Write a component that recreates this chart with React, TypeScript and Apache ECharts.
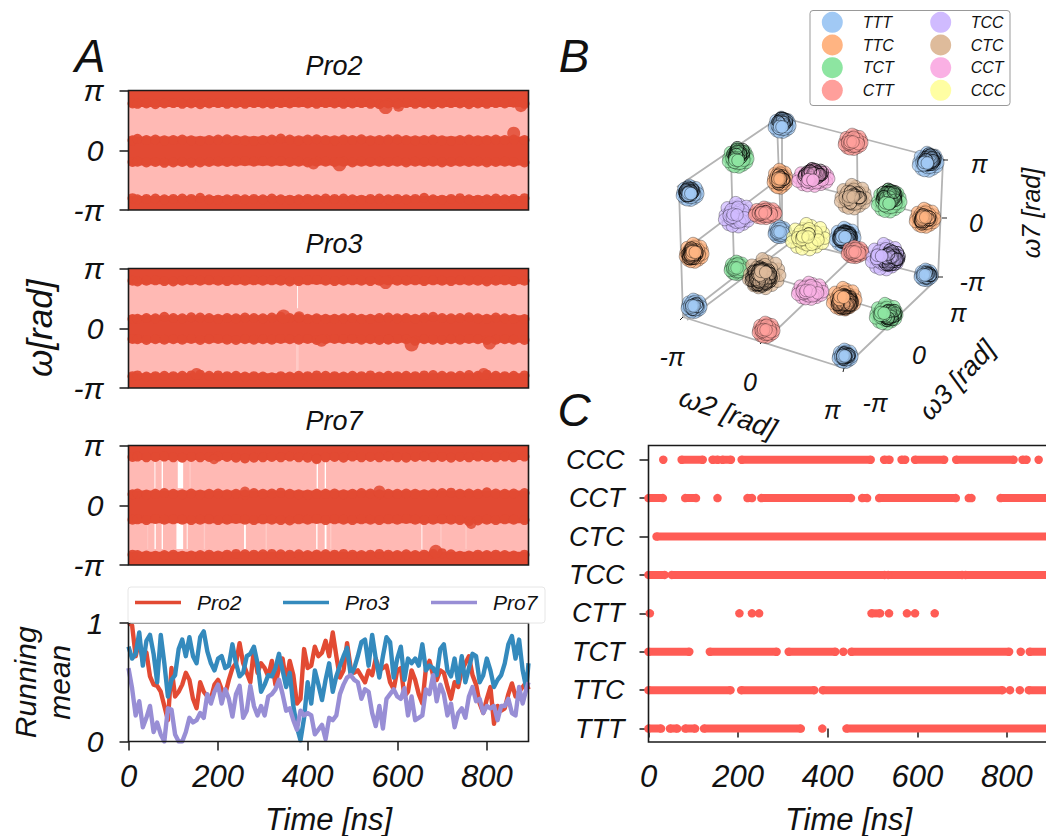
import React, { useEffect, useRef } from "react";
import * as echarts from "echarts";

const FONT = "Liberation Sans";

// ---------- Panel A: band samples (rad) ----------
const bandTimes = [9,20,40,60,80,100,120,140,160,180,200,220,240,260,280,300,320,340,360,380,400,420,440,460,480,500,520,540,560,580,600,620,640,660,680,700,720,740,760,780,800,820,840,860,884];
const pro2Top = [2.46,2.44,2.46,2.42,2.46,2.48,2.44,2.46,2.42,2.46,2.48,2.44,2.46,2.44,2.48,2.46,2.44,2.48,2.46,2.50,2.46,2.44,2.48,2.46,2.44,2.46,2.48,2.44,2.42,2.46,2.44,2.48,2.44,2.46,2.42,2.46,2.48,2.46,2.42,2.46,2.44,2.48,2.46,2.50,2.44];
const pro2MidUp = [0.52,0.60,0.54,0.56,0.52,0.54,0.56,0.52,0.50,0.54,0.56,0.58,0.54,0.52,0.50,0.54,0.56,0.62,0.56,0.52,0.56,0.58,0.54,0.52,0.56,0.54,0.58,0.52,0.54,0.56,0.58,0.54,0.52,0.54,0.56,0.52,0.50,0.54,0.56,0.52,0.54,0.56,0.54,0.56,0.54];
const pro2MidLow = [-0.62,-0.60,-0.64,-0.62,-0.66,-0.64,-0.62,-0.66,-0.64,-0.62,-0.60,-0.62,-0.60,-0.58,-0.60,-0.58,-0.60,-0.58,-0.62,-0.60,-0.64,-0.60,-0.60,-0.62,-0.60,-0.64,-0.60,-0.62,-0.60,-0.62,-0.60,-0.64,-0.60,-0.62,-0.60,-0.64,-0.62,-0.60,-0.62,-0.60,-0.64,-0.62,-0.60,-0.62,-0.64];
const pro2Bot = [-2.52,-2.58,-2.56,-2.54,-2.58,-2.56,-2.54,-2.56,-2.50,-2.58,-2.60,-2.58,-2.56,-2.58,-2.56,-2.58,-2.54,-2.58,-2.60,-2.58,-2.56,-2.58,-2.54,-2.56,-2.54,-2.58,-2.60,-2.56,-2.54,-2.58,-2.56,-2.58,-2.56,-2.50,-2.58,-2.60,-2.56,-2.52,-2.58,-2.60,-2.58,-2.54,-2.58,-2.56,-2.52];
const pro3Top = [2.50,2.46,2.50,2.52,2.48,2.46,2.50,2.52,2.50,2.52,2.50,2.48,2.52,2.50,2.52,2.50,2.52,2.50,2.46,2.48,2.52,2.54,2.50,2.48,2.50,2.52,2.50,2.48,2.50,2.52,2.50,2.50,2.52,2.48,2.52,2.50,2.48,2.52,2.50,2.50,2.46,2.50,2.52,2.48,2.50];
const pro3MidUp = [0.48,0.50,0.54,0.52,0.60,0.54,0.52,0.58,0.56,0.54,0.50,0.54,0.52,0.56,0.54,0.52,0.56,0.60,0.54,0.56,0.50,0.52,0.50,0.50,0.52,0.54,0.50,0.50,0.54,0.56,0.52,0.54,0.50,0.56,0.60,0.54,0.52,0.54,0.58,0.52,0.50,0.56,0.52,0.50,0.48];
const pro3MidLow = [-0.56,-0.58,-0.62,-0.58,-0.60,-0.58,-0.60,-0.56,-0.62,-0.58,-0.56,-0.60,-0.62,-0.58,-0.60,-0.58,-0.60,-0.56,-0.58,-0.60,-0.56,-0.62,-0.58,-0.56,-0.58,-0.56,-0.60,-0.58,-0.62,-0.58,-0.56,-0.58,-0.66,-0.58,-0.60,-0.62,-0.58,-0.60,-0.56,-0.58,-0.62,-0.60,-0.58,-0.60,-0.62];
const pro3Bot = [-2.52,-2.48,-2.54,-2.52,-2.50,-2.52,-2.50,-2.48,-2.44,-2.50,-2.48,-2.52,-2.50,-2.54,-2.52,-2.54,-2.58,-2.52,-2.54,-2.50,-2.52,-2.48,-2.50,-2.52,-2.54,-2.50,-2.52,-2.48,-2.54,-2.50,-2.52,-2.50,-2.52,-2.48,-2.46,-2.50,-2.52,-2.50,-2.46,-2.50,-2.44,-2.50,-2.52,-2.50,-2.48];
const pro7Top = [2.54,2.56,2.52,2.54,2.56,2.52,2.50,2.54,2.52,2.54,2.56,2.54,2.50,2.46,2.50,2.52,2.54,2.52,2.56,2.52,2.50,2.46,2.52,2.54,2.50,2.56,2.52,2.54,2.52,2.56,2.52,2.50,2.54,2.56,2.52,2.54,2.50,2.54,2.52,2.56,2.54,2.52,2.56,2.52,2.56];
const pro7MidUp = [0.58,0.62,0.56,0.60,0.64,0.60,0.58,0.62,0.56,0.60,0.62,0.58,0.60,0.56,0.64,0.60,0.62,0.66,0.60,0.58,0.56,0.60,0.60,0.62,0.58,0.60,0.64,0.62,0.58,0.60,0.60,0.62,0.60,0.58,0.62,0.64,0.66,0.60,0.62,0.60,0.68,0.62,0.60,0.62,0.64];
const pro7MidLow = [-0.76,-0.74,-0.78,-0.72,-0.76,-0.74,-0.76,-0.78,-0.76,-0.74,-0.78,-0.76,-0.72,-0.76,-0.78,-0.74,-0.76,-0.78,-0.80,-0.74,-0.76,-0.72,-0.78,-0.74,-0.76,-0.78,-0.74,-0.76,-0.78,-0.74,-0.76,-0.72,-0.76,-0.78,-0.76,-0.74,-0.76,-0.78,-0.84,-0.80,-0.76,-0.78,-0.74,-0.76,-0.78];
const pro7Bot = [-2.60,-2.62,-2.64,-2.66,-2.62,-2.60,-2.66,-2.64,-2.62,-2.60,-2.64,-2.60,-2.56,-2.58,-2.60,-2.58,-2.56,-2.58,-2.60,-2.58,-2.62,-2.60,-2.58,-2.60,-2.56,-2.60,-2.62,-2.60,-2.56,-2.60,-2.62,-2.58,-2.62,-2.60,-2.56,-2.52,-2.58,-2.66,-2.64,-2.60,-2.62,-2.60,-2.62,-2.64,-2.60];
const pro2Outliers = [[574,2.27,14],[603,2.32,11],[876,2.32,12],[860,0.90,13],[471,-0.74,14],[413,-0.72,11]];
const pro3Outliers = [[574,2.40,13],[346,0.62,14],[381,0.60,11],[431,-0.66,12],[632,-0.85,14],[806,-0.78,13],[152,-2.40,12],[793,-2.40,12],[580,-0.60,10]];
const pro7Outliers = [[191,2.42,10],[420,2.42,10],[560,0.72,12],[686,-2.42,13],[260,0.72,10],[765,-0.98,10]];
const pro2FillEdges = [2.28, 0.72, -0.80, -2.40];
const pro3FillEdges = [2.32, 0.69, -0.76, -2.36];
const pro7FillEdges = [2.38, 0.77, -0.94, -2.45];
// gaps in the pink transition region: [start, end, low, high]
const pro3Gaps = [[376.5,378.5,1.05,2.3]];
const pro3Faint = [[374,380,-2.3,-0.8]];
const pro7Gaps = [[58,60,0.9,2.3],[74,77,0.9,2.3],[110,122,0.9,2.3],[420,423,0.9,2.3],[438,441,0.9,2.3],[58,61,-2.3,-0.9],[74,77,-2.3,-0.9],[107,122,-2.3,-0.9],[130,132,-2.3,-0.9],[258,262,-2.3,-0.9],[419,422,-2.3,-0.9],[438,442,-2.3,-0.9],[654,656,-2.3,-0.9]];
const pro7Faint = [[136,139,0.9,2.3],[42,44,-2.3,-0.9],[168,171,-2.3,-0.9],[306,309,-2.3,-0.9],[450,453,-2.3,-0.9],[696,699,-2.3,-0.9],[752,755,-2.3,-0.9]];

// ---------- Panel A: running mean ----------
const runTimes = [0,8,16,24,32,40,48,56,64,72,80,88,96,104,112,120,128,136,144,152,160,168,176,184,192,200,208,216,224,232,240,248,256,264,272,280,288,296,304,312,320,328,336,344,352,360,368,376,384,392,400,408,416,424,432,440,448,456,464,472,480,488,496,504,512,520,528,536,544,552,560,568,576,584,592,600,608,616,624,632,640,648,656,664,672,680,688,696,704,712,720,728,736,744,752,760,768,776,784,792,800,808,816,824,832,840,848,856,864,872,880,888,893];
const runPro2 = [1.0,0.98,0.72,0.85,0.68,0.75,0.55,0.48,0.47,0.42,0.30,0.18,0.62,0.38,0.42,0.48,0.58,0.52,0.36,0.28,0.50,0.42,0.38,0.36,0.48,0.52,0.44,0.40,0.52,0.62,0.66,0.83,0.66,0.58,0.50,0.78,0.58,0.66,0.62,0.55,0.68,0.48,0.62,0.70,0.50,0.68,0.56,0.32,0.36,0.78,0.62,0.64,0.80,0.72,0.75,0.85,0.72,0.92,0.72,0.54,0.60,0.83,0.62,0.58,0.60,0.55,0.50,0.60,0.56,0.70,0.60,0.62,0.64,0.50,0.44,0.60,0.62,0.38,0.42,0.60,0.52,0.40,0.32,0.62,0.68,0.56,0.52,0.60,0.58,0.46,0.36,0.50,0.46,0.60,0.66,0.72,0.56,0.48,0.32,0.24,0.36,0.46,0.15,0.30,0.26,0.28,0.40,0.49,0.38,0.42,0.46,0.50,0.44];
const runPro3 = [0.80,0.70,0.74,0.92,0.64,0.85,0.90,0.74,0.50,0.90,0.66,0.38,0.52,0.56,0.78,0.86,0.72,0.88,0.72,0.66,0.88,0.93,0.76,0.66,0.60,0.70,0.72,0.62,0.64,0.82,0.66,0.55,0.58,0.72,0.74,0.80,0.66,0.42,0.48,0.56,0.55,0.62,0.74,0.60,0.46,0.58,0.30,0.12,0.01,0.20,0.50,0.32,0.60,0.48,0.35,0.52,0.66,0.42,0.55,0.64,0.72,0.79,0.56,0.62,0.72,0.84,0.86,0.64,0.90,0.70,0.54,0.72,0.88,0.84,0.54,0.70,0.80,0.52,0.70,0.66,0.70,0.64,0.82,0.60,0.64,0.62,0.56,0.78,0.82,0.60,0.55,0.70,0.50,0.72,0.50,0.62,0.74,0.72,0.50,0.56,0.70,0.60,0.46,0.52,0.56,0.66,0.82,0.89,0.70,0.86,0.60,0.45,0.66];
const runPro7 = [0.62,0.45,0.22,0.34,0.12,0.20,0.30,0.08,0.16,0.06,0.00,0.28,0.27,0.06,0.00,0.00,0.08,0.20,0.16,0.18,0.24,0.20,0.40,0.32,0.42,0.48,0.32,0.44,0.36,0.21,0.40,0.47,0.20,0.26,0.47,0.30,0.22,0.30,0.22,0.38,0.40,0.44,0.52,0.40,0.26,0.28,0.18,0.10,0.26,0.22,0.24,0.22,0.06,0.10,0.14,0.02,0.20,0.18,0.22,0.40,0.48,0.54,0.56,0.52,0.50,0.36,0.44,0.42,0.24,0.13,0.30,0.11,0.36,0.40,0.44,0.38,0.36,0.45,0.22,0.38,0.18,0.20,0.22,0.44,0.40,0.56,0.34,0.48,0.40,0.22,0.32,0.12,0.24,0.28,0.20,0.38,0.46,0.34,0.36,0.24,0.30,0.28,0.30,0.18,0.30,0.30,0.36,0.24,0.22,0.46,0.32,0.44,0.50];

// ---------- Panel C: occupancy ----------
const stateRows = ["TTT","TTC","TCT","CTT","TCC","CTC","CCT","CCC"];
const stateRowValues = [0,1,2,3,4,5,6,7];
const endTime = 893;
const rowRanges = [
  [[0,28],[48,64],[82,104],[124,340],[388,388],[442,endTime]],
  [[0,183],[207,370],[389,790],[807,807],[829,829],[849,endTime]],
  [[0,91],[137,286],[313,417],[435,435],[453,805],[831,831],[851,endTime]],
  [[3,3],[203,203],[231,231],[247,247],[498,517],[537,537],[577,577],[595,595],[639,639]],
  [[0,36],[52,527],[535,700],[708,endTime]],
  [[18,endTime]],
  [[0,32],[82,106],[154,154],[221,231],[252,452],[477,488],[515,686],[715,721],[786,endTime]],
  [[33,33],[74,121],[143,155],[165,184],[208,496],[526,538],[565,573],[595,660],[687,815],[835,844],[871,871]],
];

// ---------- Panel B: projected view plane ----------
const clusterState = ["TTT","CTT","TTT","TCT","TTT","TTC","CCT","CTC","TCT","TTC","TCC","CTT","TTT","CCC","TTT","CTT","TCC","TTC","TCT","CTC","CCT","TTC","TCT","TTT","CTT","TTT","TTT"];
const clusterX = [782,853,928,738,690,780,813,853,889,925,737,765,780,808,845,855,885,694,737,764,810,844,886,694,766,845,926];
const clusterY = [125,142,162,158,193,179,178,197,201,218,215,213,232,237,237,252,257,253,268,274,291,299,314,306,330,356,275];
const clusterSpreadX = [8,9,10,10,8,7,16,13,12,10,13,11,6,17,10,8,14,9,7,16,13,12,11,7,8,7,6];
const clusterSpreadY = [8,8,10,10,8,10,9,13,12,10,13,6,6,14,10,6,14,10,7,16,9,12,11,7,8,7,6];
const clusterDark = [24,0,50,36,40,12,54,10,70,16,0,2,0,2,110,0,54,36,0,130,0,110,26,6,0,18,10];
const clusterDarkDx = [0,0,0.2,0,-0.3,0,0,0,0,-0.2,0,0,0,0,0,0,0.7,-0.4,0,-0.3,0,0.1,0.5,0,0,0,0.4];
const clusterDarkDy = [-0.7,0,-0.3,-0.7,-0.2,0,-0.7,0,-0.6,0.2,0,0,0,0,0,0,0.2,0.2,0,0.3,0,0.4,0.2,0,0,0,0];
const dotPattern = [[0,0],[0.7,0.1],[-0.6,0.3],[0.2,-0.8],[-0.3,-0.6],[0.5,0.7],[-0.5,-0.1],[0.9,-0.3],[-0.9,0],[0.1,0.9],[-0.2,0.5],[0.4,-0.4],[-0.75,-0.55],[0.72,-0.66],[-0.65,0.72],[0.85,0.45],[0.05,-0.3],[0.38,0.3],[-0.35,0.85],[-0.1,-0.95],[-0.95,0.35],[0.98,0.08]];
const stateColor = {TTT:"#a1c9f4",TTC:"#ffb482",TCT:"#8de5a1",CTT:"#ff9f9b",TCC:"#d0bbff",CTC:"#debb9b",CCT:"#fab0e4",CCC:"#fffea3"};
const stateDarkFill = {TTT:"rgba(161,201,244,0.25)",TTC:"rgba(255,180,130,0.25)",TCT:"rgba(141,229,161,0.25)",CTT:"rgba(255,159,155,0.25)",TCC:"rgba(208,187,255,0.25)",CTC:"rgba(222,187,155,0.25)",CCT:"rgba(250,176,228,0.25)",CCC:"rgba(255,254,163,0.25)"};
const legendLeft = ["TTT","TTC","TCT","CTT"];
const legendRight = ["TCC","CTC","CCT","CCC"];
const legendRowsY = [22.3,45,67.7,90.3];
const frameLines = [
  [780,117,945,160],[780,117,677,187],[679,190,683,317],[683,317,844,368],[844,368,938,278],[938,278,943,160],
  [777,122,781,232],[782,120,782,232],[857,140,858,255],[731,158,734,265],
  [683,317,782,240],[687,320,790,243],[782,238,938,278],[731,265,900,316],[766,340,858,252],[780,178,940,218],[780,178,681,253],
];
const frameTicks = [[683,317,680,320],[763,341,760,344],[844,368,843,372],[897,322,894,325],[938,277,943,277],[942,218,947,218],[943,160,948,160]];

const timeTicks = [0,200,400,600,800];
const piTicks = [-Math.PI,0,Math.PI];
const meanTicks = [0,1];

function rangeGap(list, c) {
  return list.map((g) => [{ xAxis: g[0], yAxis: g[2], itemStyle: { color: c } }, { xAxis: g[1], yAxis: g[3] }]);
}

function buildBand(i, edges, rows, outliers, gaps, faint) {
  const base = { type: "scatter", xAxisIndex: i, yAxisIndex: i, silent: true };
  const res = [];
  res.push({
    ...base, data: [], z: 1,
    markArea: { silent: true, z: 1, animation: false, itemStyle: { color: "#ffb9b4", opacity: 1 }, data: [[{ xAxis: 0, yAxis: -Math.PI }, { xAxis: 893, yAxis: Math.PI }]] },
  });
  if (gaps.length + faint.length) {
    res.push({
      ...base, data: [], z: 2,
      markArea: { silent: true, z: 2, animation: false, itemStyle: { color: "#ffffff", opacity: 1 }, data: rangeGap(gaps, "#ffffff").concat(rangeGap(faint, "#ffcac6")) },
    });
  }
  res.push({
    ...base, data: [], z: 3,
    markArea: {
      silent: true, z: 3, animation: false, itemStyle: { color: "#e24a33", opacity: 1 },
      data: [
        [{ xAxis: 0, yAxis: edges[0] }, { xAxis: 893, yAxis: Math.PI }],
        [{ xAxis: 0, yAxis: edges[2] }, { xAxis: 893, yAxis: edges[1] }],
        [{ xAxis: 0, yAxis: -Math.PI }, { xAxis: 893, yAxis: edges[3] }],
      ],
    },
  });
  rows.forEach((r) => {
    res.push({
      ...base, z: 4, symbolSize: 10, clip: true,
      itemStyle: { color: "#e24a33", opacity: 0.95 },
      data: r.map((v, k) => [bandTimes[k], v]),
    });
  });
  res.push({
    ...base, z: 4, clip: true,
    symbolSize: (d) => d[2],
    itemStyle: { color: "#e24a33", opacity: 0.85 },
    data: outliers,
  });
  return res;
}

function clusterSeries() {
  return clusterState.map((s, c) => {
    const sx = clusterSpreadX[c], sy = clusterSpreadY[c];
    const pts: any[] = [];
    dotPattern.forEach((p) => pts.push([clusterX[c] + p[0] * sx, clusterY[c] + p[1] * sy]));
    dotPattern.forEach((p) => pts.push([clusterX[c] - p[0] * sx * 0.62, clusterY[c] + p[1] * sy * 0.62]));
    for (let i = 0; i < clusterDark[c]; i++) {
      const p = dotPattern[(i * 5 + 3) % dotPattern.length];
      const k = 0.28 + 0.09 * (i % 5);
      pts.push({
        value: [clusterX[c] + (clusterDarkDx[c] * 0.6 + p[0] * k) * sx, clusterY[c] + (clusterDarkDy[c] * 0.6 + p[1] * k) * sy],
        itemStyle: { color: stateDarkFill[s], borderColor: "#000", borderWidth: 0.7, opacity: 1 },
      });
    }
    [2, 6, 0].forEach((j) => {
      const p = dotPattern[j];
      pts.push({
        value: [clusterX[c] + (p[0] * 0.6 - clusterDarkDx[c] * 0.35) * sx, clusterY[c] + (p[1] * 0.6 - clusterDarkDy[c] * 0.35) * sy],
        itemStyle: { opacity: clusterDark[c] > 20 ? 0.95 : 0.75 },
      });
    });
    return {
      type: "scatter", xAxisIndex: 5, yAxisIndex: 5, silent: true, z: 3,
      symbolSize: 12.5,
      itemStyle: { color: stateColor[s], borderColor: "rgba(0,0,0,0.7)", borderWidth: 0.6, opacity: 0.75 },
      data: pts,
    };
  });
}

function withBreaks(lines) {
  const out = [];
  lines.forEach((l) => { out.push([l[0], l[1]], [l[2], l[3]], [l[2], null]); });
  return out;
}

function txt(text, x, y, size, extra = {}, rot = 0) {
  return {
    type: "text", x, y, rotation: rot, z: 50, silent: true,
    style: { text, fontFamily: FONT, fontStyle: "italic", fontSize: size, fill: "#111", align: "center", verticalAlign: "middle", ...extra },
  };
}

function frame(x, y, w, h) {
  return { type: "rect", z: 40, silent: true, shape: { x, y, width: w, height: h }, style: { fill: "none", stroke: "#1a1a1a", lineWidth: 1.6 } };
}

const axisBase = { axisLine: { show: false }, splitLine: { show: false } };
const tick = { length: 9, lineStyle: { color: "#1a1a1a", width: 1.5 } };
const labelFont = { fontFamily: FONT, fontStyle: "italic", color: "#111" };

function makeOption() {
  const grids = [
    { left: 128.5, top: 90.5, width: 400, height: 119.5, outerBoundsMode: "none" },
    { left: 128.5, top: 268.5, width: 400, height: 119.5, outerBoundsMode: "none" },
    { left: 128.5, top: 445.5, width: 400, height: 119.5, outerBoundsMode: "none" },
    { left: 128.5, top: 623, width: 400, height: 118.5, outerBoundsMode: "none" },
    { left: 648.5, top: 445.5, width: 400, height: 296.5, outerBoundsMode: "none" },
    { left: 0, top: 0, width: 1046, height: 836, outerBoundsMode: "none" },
  ];
  const xAxes: any[] = [0, 1, 2].map((i) => ({
    ...axisBase, type: "value", gridIndex: i, min: 0, max: 893,
    axisTick: { ...tick, customValues: timeTicks }, axisLabel: { show: false },
  }));
  [3, 4].forEach((i) => xAxes.push({
    ...axisBase, type: "value", gridIndex: i, min: 0, max: 893,
    axisTick: { ...tick, customValues: timeTicks },
    axisLabel: { ...labelFont, fontSize: 31, margin: 19, customValues: timeTicks, hideOverlap: false },
    name: "Time [ns]", nameLocation: "middle", nameGap: 62,
    nameTextStyle: { ...labelFont, fontSize: 31 },
  }));
  xAxes.push({ type: "value", gridIndex: 5, min: 0, max: 1046, show: false });

  const yAxes: any[] = [0, 1, 2].map((i) => ({
    ...axisBase, type: "value", gridIndex: i, min: -Math.PI, max: Math.PI,
    axisTick: { ...tick, customValues: piTicks },
    axisLabel: {
      ...labelFont, fontSize: 30, margin: 25, customValues: piTicks, showMinLabel: true, showMaxLabel: true,
      formatter: (v: number) => (v < -1 ? "-π" : v > 1 ? "π" : "0"),
    },
    ...(i === 1 ? { name: "ω[rad]", nameLocation: "middle", nameGap: 72, nameRotate: 90, nameTextStyle: { ...labelFont, fontSize: 35 } } : {}),
  }));
  yAxes.push({
    ...axisBase, type: "value", gridIndex: 3, min: 0, max: 1,
    axisTick: { ...tick, customValues: meanTicks },
    axisLabel: { ...labelFont, fontSize: 30, margin: 25, customValues: meanTicks },
    name: "Running\nmean", nameLocation: "middle", nameGap: 52, nameRotate: 90,
    nameTextStyle: { ...labelFont, fontSize: 30, lineHeight: 34 },
  });
  yAxes.push({
    ...axisBase, type: "value", gridIndex: 4, min: -0.35, max: 7.37,
    axisTick: { ...tick, customValues: stateRowValues },
    axisLabel: {
      ...labelFont, fontSize: 27, margin: 24, customValues: stateRowValues,
      formatter: (v: number) => stateRows[Math.round(v)],
    },
  });
  yAxes.push({ type: "value", gridIndex: 5, min: 0, max: 836, inverse: true, show: false });

  const series: any[] = [
    ...buildBand(0, pro2FillEdges, [pro2Top, pro2MidUp, pro2MidLow, pro2Bot], pro2Outliers, [], []),
    ...buildBand(1, pro3FillEdges, [pro3Top, pro3MidUp, pro3MidLow, pro3Bot], pro3Outliers, pro3Gaps, pro3Faint),
    ...buildBand(2, pro7FillEdges, [pro7Top, pro7MidUp, pro7MidLow, pro7Bot], pro7Outliers, pro7Gaps, pro7Faint),
  ];
  [[runPro2, "#E24A33", "Pro2"], [runPro3, "#348ABD", "Pro3"], [runPro7, "#988ED5", "Pro7"]].forEach((r: any) => {
    series.push({
      type: "line", name: r[2], xAxisIndex: 3, yAxisIndex: 3, showSymbol: false, symbol: "none", silent: true, clip: true,
      lineStyle: { color: r[1], width: 4.4, join: "round" }, z: 3,
      data: r[0].map((v: number, k: number) => [runTimes[k], v]),
    });
  });
  rowRanges.forEach((ranges, row) => {
    const stretches = ranges.filter((r) => r[1] > r[0]);
    series.push({
      type: "line", xAxisIndex: 4, yAxisIndex: 4, symbol: "none", silent: true, clip: true, z: 3,
      lineStyle: { color: "#ff5c55", width: 8 },
      data: stretches.flatMap((r) => [[r[0], row], [r[1], row], [r[1], null]]),
    });
    series.push({
      type: "scatter", xAxisIndex: 4, yAxisIndex: 4, symbolSize: 8.5, silent: true, clip: true, z: 3,
      itemStyle: { color: "#ff5c55", opacity: 1 },
      data: ranges.flatMap((r) => (r[1] > r[0] ? [[r[0], row], [r[1], row]] : [[r[0], row]])),
    });
  });
  series.push({
    type: "line", xAxisIndex: 5, yAxisIndex: 5, symbol: "none", silent: true, clip: false, z: 1,
    lineStyle: { color: "#b4b4b4", width: 1.8 }, data: withBreaks(frameLines),
  });
  series.push({
    type: "line", xAxisIndex: 5, yAxisIndex: 5, symbol: "none", silent: true, clip: false, z: 2,
    lineStyle: { color: "#222", width: 1 }, data: withBreaks(frameTicks),
  });
  series.push(...clusterSeries());

  const legendEls: any[] = [
    { type: "rect", z: 45, silent: true, shape: { x: 810, y: 10.5, width: 200, height: 95, r: 3 }, style: { fill: "rgba(255,255,255,0.9)", stroke: "#999", lineWidth: 1 } },
  ];
  legendLeft.forEach((s, i) => {
    legendEls.push({ type: "circle", z: 46, silent: true, shape: { cx: 832.3, cy: legendRowsY[i], r: 10.5 }, style: { fill: stateColor[s] } });
    legendEls.push(txt(s, 862.7, legendRowsY[i], 16, { align: "left" }));
  });
  legendRight.forEach((s, i) => {
    legendEls.push({ type: "circle", z: 46, silent: true, shape: { cx: 940.7, cy: legendRowsY[i], r: 10.5 }, style: { fill: stateColor[s] } });
    legendEls.push(txt(s, 970.7, legendRowsY[i], 16, { align: "left" }));
  });
  const runLegend: any[] = [
    { type: "rect", z: 45, silent: true, shape: { x: 128, y: 587, width: 417, height: 36, r: 3 }, style: { fill: "rgba(255,255,255,0.8)", stroke: "#e6e6e6", lineWidth: 1 } },
  ];
  [["Pro2", "#E24A33", 135, 197], ["Pro3", "#348ABD", 283, 345], ["Pro7", "#988ED5", 431, 493]].forEach((e: any) => {
    runLegend.push({ type: "line", z: 46, silent: true, shape: { x1: e[2], y1: 602.5, x2: e[2] + 46, y2: 602.5 }, style: { stroke: e[1], lineWidth: 3.5 } });
    runLegend.push(txt(e[0], e[3], 602.5, 21, { align: "left" }));
  });

  const D = Math.PI / 180;
  return {
    animation: false,
    backgroundColor: "#ffffff",
    title: [
      ["Pro2", 47], ["Pro3", 225], ["Pro7", 402],
    ].map((t: any) => ({ text: t[0], left: 329, top: t[1], textAlign: "center", textStyle: { ...labelFont, fontSize: 27, fontWeight: "normal" } })),
    grid: grids,
    xAxis: xAxes,
    yAxis: yAxes,
    series,
    graphic: {
      elements: [
        frame(128.5, 90.5, 400, 119.5),
        frame(128.5, 268.5, 400, 119.5),
        frame(128.5, 445.5, 400, 119.5),
        frame(128.5, 623, 400, 118.5),
        frame(648.5, 445.5, 420, 296.5),
        txt("A", 90, 56, 46, { lineHeight: 34 }),
        txt("B", 574, 56, 46, { lineHeight: 34 }),
        txt("C", 574, 410, 46, { lineHeight: 34 }),
        ...legendEls,
        ...runLegend,
        txt("-π", 672, 357, 25),
        txt("0", 750, 382, 25),
        txt("π", 832, 410, 25),
        txt("-π", 875, 403, 25),
        txt("0", 919, 355, 25),
        txt("π", 958, 313, 25),
        txt("-π", 972, 282, 25),
        txt("0", 976, 223, 25),
        txt("π", 979, 164, 25),
        txt("ω2 [rad]", 728, 413, 28, {}, -20 * D),
        txt("ω3 [rad]", 957, 380, 27, {}, 47 * D),
        txt("ω7 [rad]", 1031, 213, 25, {}, 90 * D),
      ],
    },
  };
}

export default function App() {
  const ref = useRef<HTMLDivElement>(null);
  useEffect(() => {
    const chart = echarts.init(ref.current as HTMLDivElement, undefined, { renderer: "svg" });
    chart.setOption(makeOption() as any);
    return () => chart.dispose();
  }, []);
  return <div ref={ref} style={{ position: "absolute", left: 0, top: 0, width: 1046, height: 836 }} />;
}
